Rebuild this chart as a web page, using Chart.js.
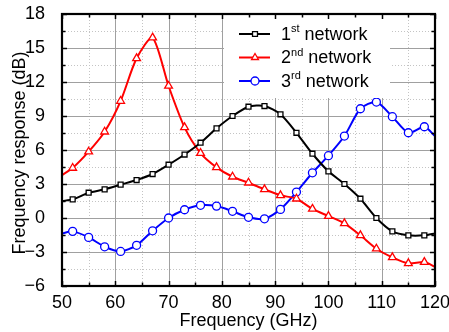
<!DOCTYPE html>
<html>
<head>
<meta charset="utf-8">
<script src="https://cdn.jsdelivr.net/npm/chart.js@4/dist/chart.umd.min.js"></script>
<style>
  html, body { margin: 0; padding: 0; background: #fff; }
  #chart { display: block; }
</style>
</head>
<body>
<canvas id="chart" width="449" height="332"></canvas>
<script>
// frequency (GHz) of the measured points
const freq = [50, 52, 55, 58, 61, 64, 67, 70, 73, 76, 79, 82, 85, 88, 91, 94, 97, 100, 103, 106, 109, 112, 115, 118, 120];

// frequency response (dB)
const net1 = [1.5, 1.64, 2.23, 2.53, 2.94, 3.35, 3.88, 4.7, 5.6, 6.64, 7.91, 9.0, 9.82, 9.88, 9.15, 7.52, 5.67, 4.12, 3.0, 1.7, 0.0, -1.18, -1.53, -1.53, -1.36];
const net2 = [3.79, 4.41, 5.85, 7.61, 10.32, 14.09, 15.91, 11.65, 8.0, 5.73, 4.47, 3.64, 3.11, 2.53, 2.0, 1.7, 0.8, 0.17, -0.47, -1.53, -2.71, -3.47, -4.0, -3.89, -4.3];
const net3 = [-1.36, -1.18, -1.71, -2.54, -2.95, -2.41, -1.13, 0.0, 0.73, 1.12, 1.05, 0.59, 0.06, -0.07, 0.76, 2.29, 3.99, 5.5, 7.23, 9.64, 10.23, 8.94, 7.52, 8.05, 7.23];

const seriesNames = ["1", "2", "3"];
const seriesSups = ["st", "nd", "rd"];
const seriesColors = ["#000000", "#ff0000", "#0000ff"];
const seriesMarkers = ["rect", "triangle", "circle"];

const xTicks = [50, 60, 70, 80, 90, 100, 110, 120];
const yTicks = [-6, -3, 0, 3, 6, 9, 12, 15, 18];

const FONT = "'Liberation Sans', Arial, sans-serif";
Chart.defaults.font.family = FONT;
Chart.defaults.color = "#000";

// markers only on the measured points, not on the end points of the trace
const radii = freq.map((f) => (f === 50 || f === 120 ? 0 : 1));

const makeSet = (i, values, r) => ({
  label: seriesNames[i] + seriesSups[i] + " network",
  data: freq.map((f, k) => ({ x: f, y: values[k] })),
  borderColor: seriesColors[i],
  backgroundColor: "#fff",
  borderWidth: 2,
  pointStyle: seriesMarkers[i],
  pointRadius: radii.map((v) => v * r),
  pointBorderWidth: 1.3,
  pointHoverRadius: 0,
  tension: 0.25,
});

const frame = {
  id: "frame",
  beforeDatasetsDraw: (chart) => {
    const { ctx, chartArea: a, scales } = chart;
    const x = scales.x, y = scales.y;
    ctx.save();
    // minor dotted grid
    ctx.strokeStyle = "#c4c4c4";
    ctx.lineWidth = 1;
    ctx.setLineDash([1, 2]);
    for (let v = 55; v < 120; v += 10) {
      const px = Math.round(x.getPixelForValue(v)) + 0.5;
      ctx.beginPath(); ctx.moveTo(px, a.top); ctx.lineTo(px, a.bottom); ctx.stroke();
    }
    for (let v = -4.5; v < 18; v += 3) {
      const py = Math.round(y.getPixelForValue(v)) + 0.5;
      ctx.beginPath(); ctx.moveTo(a.left, py); ctx.lineTo(a.right, py); ctx.stroke();
    }
    // major solid grid
    ctx.setLineDash([]);
    ctx.strokeStyle = "#a0a0a0";
    xTicks.forEach((v) => {
      const px = Math.round(x.getPixelForValue(v)) + 0.5;
      ctx.beginPath(); ctx.moveTo(px, a.top); ctx.lineTo(px, a.bottom); ctx.stroke();
    });
    yTicks.forEach((v) => {
      const py = Math.round(y.getPixelForValue(v)) + 0.5;
      ctx.beginPath(); ctx.moveTo(a.left, py); ctx.lineTo(a.right, py); ctx.stroke();
    });
    ctx.restore();
  },
  afterDatasetsDraw: (chart) => {
    const { ctx, chartArea: a, scales } = chart;
    const x = scales.x, y = scales.y;
    ctx.save();

    // legend box
    ctx.fillStyle = "#fff";
    ctx.fillRect(224, a.top + 1, 166, 83);
    chart.data.datasets.forEach((ds, i) => {
      const ry = 34 + i * 23.5;
      ctx.strokeStyle = ds.borderColor;
      ctx.lineWidth = 2;
      ctx.beginPath(); ctx.moveTo(239, ry); ctx.lineTo(270, ry); ctx.stroke();
      ctx.fillStyle = "#fff";
      ctx.lineWidth = 1.3;
      const r = i === 0 ? 3.5 : 4;
      Chart.helpers.drawPoint(ctx, { pointStyle: ds.pointStyle, radius: r, rotation: 0, borderWidth: 1.3 }, 255, ry);
      ctx.fillStyle = "#000";
      ctx.textBaseline = "middle";
      ctx.textAlign = "left";
      ctx.font = "18px " + FONT;
      ctx.fillText(seriesNames[i], 281, ry + 1);
      const w1 = ctx.measureText(seriesNames[i]).width;
      ctx.font = "11px " + FONT;
      ctx.fillText(seriesSups[i], 281 + w1, ry - 5);
      const w2 = ctx.measureText(seriesSups[i]).width;
      ctx.font = "18px " + FONT;
      ctx.fillText(" network", 281 + w1 + w2, ry + 1);
    });

    // ticks on all four sides, pointing inward
    ctx.strokeStyle = "#000";
    ctx.lineWidth = 1.5;
    const tick = (x1, y1, x2, y2) => { ctx.beginPath(); ctx.moveTo(x1, y1); ctx.lineTo(x2, y2); ctx.stroke(); };
    for (let v = 50; v <= 120; v += 5) {
      const px = Math.round(x.getPixelForValue(v)) + 0.5;
      const len = v % 10 === 0 ? 5 : 3.5;
      tick(px, a.bottom, px, a.bottom - len);
      tick(px, a.top, px, a.top + len);
    }
    for (let v = -6; v <= 18; v += 1.5) {
      const py = Math.round(y.getPixelForValue(v)) + 0.5;
      const len = v % 3 === 0 ? 5 : 3.5;
      tick(a.left, py, a.left + len, py);
      tick(a.right, py, a.right - len, py);
    }
    // frame
    ctx.lineWidth = 2.2;
    ctx.strokeRect(a.left, a.top, a.right - a.left, a.bottom - a.top);

    // axis titles
    ctx.fillStyle = "#000";
    ctx.font = "18px " + FONT;
    ctx.textAlign = "center";
    ctx.textBaseline = "middle";
    ctx.fillText("Frequency (GHz)", (a.left + a.right) / 2, 321);
    ctx.translate(20, (a.top + a.bottom) / 2 + 3);
    ctx.rotate(-Math.PI / 2);
    ctx.fillText("Frequency response (dB)", 0, 0);
    ctx.restore();
  },
};

new Chart(document.getElementById("chart"), {
  type: "line",
  data: {
    datasets: [makeSet(0, net1, 3.5), makeSet(1, net2, 4.5), makeSet(2, net3, 4)],
  },
  options: {
    responsive: false,
    animation: false,
    layout: { padding: { top: 14, right: 14, left: 0, bottom: 0 } },
    plugins: { legend: { display: false }, tooltip: { enabled: false } },
    scales: {
      x: {
        type: "linear",
        min: 50,
        max: 120,
        afterFit: (s) => { s.height = 46; s.paddingLeft = 0; s.paddingRight = 0; },
        afterBuildTicks: (s) => { s.ticks = xTicks.map((v) => ({ value: v })); },
        ticks: { font: { size: 18 }, padding: -2, maxRotation: 0 },
        grid: { display: false },
        border: { display: false },
      },
      y: {
        min: -6,
        max: 18,
        afterFit: (s) => { s.width = 62; s.paddingTop = 0; s.paddingBottom = 0; },
        afterBuildTicks: (s) => { s.ticks = yTicks.map((v) => ({ value: v })); },
        ticks: {
          font: { size: 18 },
          padding: 9,
          callback: (v) => (v < 0 ? "\u2212" + Math.abs(v) : String(v)),
        },
        grid: { display: false },
        border: { display: false },
      },
    },
  },
  plugins: [frame],
});
</script>
</body>
</html>
